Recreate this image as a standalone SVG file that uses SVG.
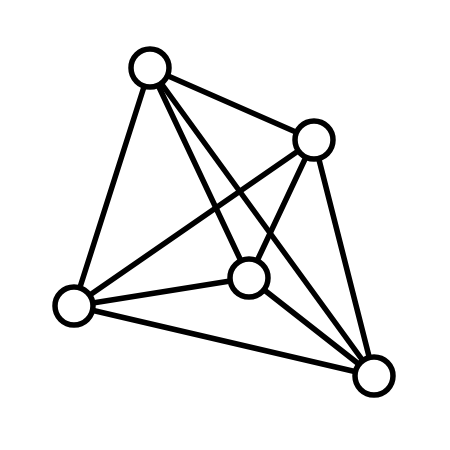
<svg xmlns="http://www.w3.org/2000/svg" width="450" height="450" viewBox="0 0 450 450">
<style>
.e{stroke:#000;stroke-width:5.5;stroke-linecap:round}
.n{fill:#fff;stroke:#000;stroke-width:5.5}
</style>
<rect width="450" height="450" fill="#fff"/>
<g id="edges">
<line class="e" x1="150" y1="68" x2="314" y2="140"/>
<line class="e" x1="150" y1="68" x2="74" y2="306"/>
<line class="e" x1="150" y1="68" x2="249" y2="278"/>
<line class="e" x1="150" y1="68" x2="374" y2="376"/>
<line class="e" x1="314" y1="140" x2="74" y2="306"/>
<line class="e" x1="314" y1="140" x2="249" y2="278"/>
<line class="e" x1="314" y1="140" x2="374" y2="376"/>
<line class="e" x1="74" y1="306" x2="249" y2="278"/>
<line class="e" x1="74" y1="306" x2="374" y2="376"/>
<line class="e" x1="249" y1="278" x2="374" y2="376"/>
</g>
<g id="nA"><circle class="n" cx="150" cy="68" r="19"/></g>
<g id="nB"><circle class="n" cx="314" cy="140" r="19"/></g>
<g id="nC"><circle class="n" cx="249" cy="278" r="19"/></g>
<g id="nD"><circle class="n" cx="74" cy="306" r="19"/></g>
<g id="nE"><circle class="n" cx="374" cy="376" r="19"/></g>
</svg>
